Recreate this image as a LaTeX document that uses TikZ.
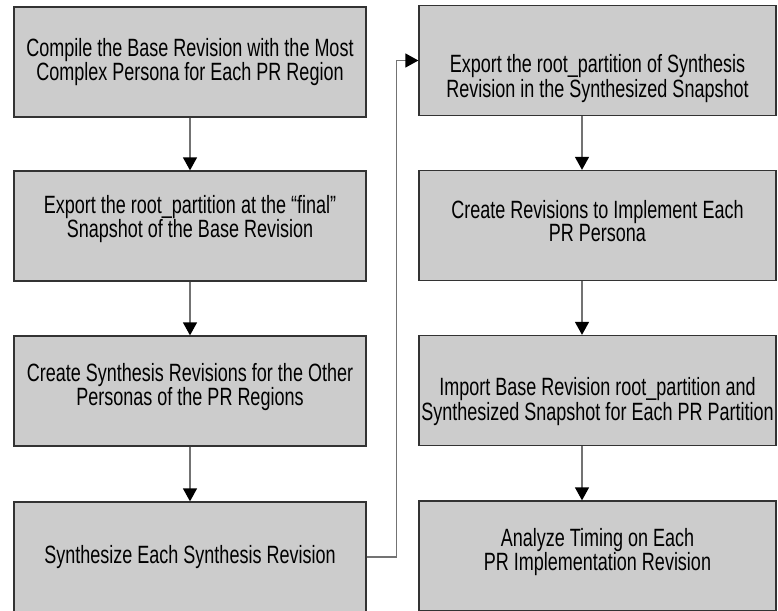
\documentclass[tikz,border=0pt]{standalone}
\usepackage{fontspec}
\setmainfont{Liberation Sans}[FakeStretch=0.72]
\usetikzlibrary{arrows.meta}
% struts that move the text of a box down or up by #1pt
\newcommand{\shiftdown}[1]{\rule{0pt}{\numexpr30+2*#1\relax pt}}
\newcommand{\shiftup}[1]{\rule[-\numexpr5+2*#1\relax pt]{0pt}{0pt}}

\begin{document}
\begin{tikzpicture}[x=1pt,y=-1pt,
	stepbox/.style={draw=black!80,line width=1.3pt,fill=black!20,minimum width=352pt,minimum height=110pt,inner sep=0pt,align=center,font=\fontsize{25}{22}\selectfont},
	flow/.style={draw=black!55,line width=1.3pt,-{Triangle[width=14pt,length=13pt,color=black]}}]
	\useasboundingbox (0,0) rectangle (778,610);
	% left column
		\node[stepbox] (compile) at (190,62) {Compile the Base Revision with the Most\\Complex Persona for Each PR Region};
		\node[stepbox] (exportbase) at (190,226) {Export the root\_partition at the ``final''\\Snapshot of the Base Revision\shiftup{7}};
		\node[stepbox] (synthrevs) at (190,391) {Create Synthesis Revisions for the Other\\Personas of the PR Regions\shiftup{4}};
		\node[stepbox] (synth) at (190,557) {Synthesize Each Synthesis Revision};
	% right column
		\node[stepbox,minimum width=357pt] (exportsynth) at (597.5,60.5) {\shiftdown{12}Export the root\_partition of Synthesis\\Revision in the Synthesized Snapshot};
		\node[stepbox,minimum width=357pt] (implrevs) at (597.5,225.5) {Create Revisions to Implement Each\\PR Persona\shiftup{2}};
		\node[stepbox,minimum width=357pt] (import) at (597.5,390.5) {\shiftdown{5}Import Base Revision root\_partition and\\Synthesized Snapshot for Each PR Partition};
		\node[stepbox,minimum width=357pt] (timing) at (597.5,556) {Analyze Timing on Each\\PR Implementation Revision\shiftup{4}};
	% connectors
		\draw[flow] (compile) -- (exportbase);
		\draw[flow] (exportbase) -- (synthrevs);
		\draw[flow] (synthrevs) -- (synth);
		\draw[flow] (synth.east) -- ++(30,0) |- (exportsynth.west);
		\draw[flow] ([xshift=-15.5pt]exportsynth.south) -- ([xshift=-15.5pt]implrevs.north);
		\draw[flow] ([xshift=-15.5pt]implrevs.south) -- ([xshift=-15.5pt]import.north);
		\draw[flow] ([xshift=-15.5pt]import.south) -- ([xshift=-15.5pt]timing.north);
\end{tikzpicture}
\end{document}
